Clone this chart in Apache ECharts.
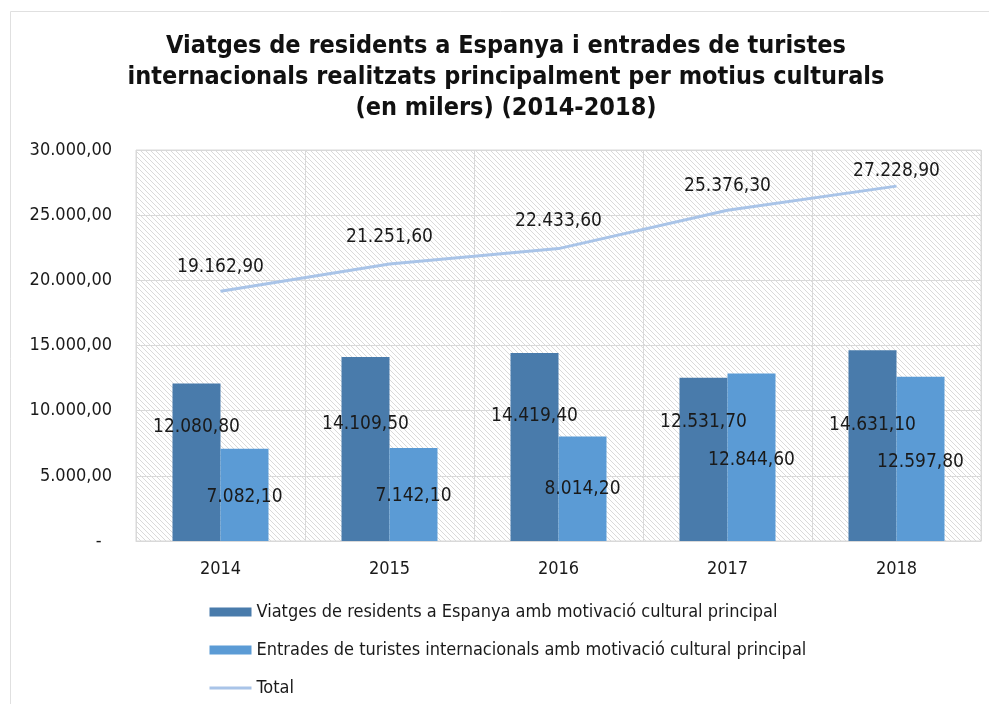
<!DOCTYPE html>
<html>
<head>
<meta charset="utf-8">
<script src="https://cdn.jsdelivr.net/npm/echarts@6/dist/echarts.min.js"></script>
<style>
  html, body { margin: 0; padding: 0; background: #fff; }
  #chart { width: 989px; height: 704px; }
</style>
</head>
<body>
<div id="chart"></div>
<script>
const years = ['2014', '2015', '2016', '2017', '2018']
const residents = [12080.8, 14109.5, 14419.4, 12531.7, 14631.1]
const tourists = [7082.1, 7142.1, 8014.2, 12844.6, 12597.8]
const totals = [19162.9, 21251.6, 22433.6, 25376.3, 27228.9]

const seriesNames = [
  'Viatges de residents a Espanya amb motivació cultural principal',
  'Entrades de turistes internacionals amb motivació cultural principal',
  'Total',
]

// label nudges (px), Excel labels were moved by hand
const residentLabelShift = [-35, -25, -31, -37, -21]
const touristLabelShift = [2, 2, 0, 3, 3]
const totalLabelGap = [15, 17, 18, 15, 6]

const font = '"DejaVu Sans Condensed", "DejaVu Sans", sans-serif'

// "12.080,80" style
const fmt = (v) => {
  const parts = v.toFixed(2).split('.')
  return parts[0].replace(/\B(?=(\d{3})+(?!\d))/g, '.') + ',' + parts[1]
}

// diagonal hatch for the plot area
const hatch = document.createElement('canvas')
hatch.width = 5
hatch.height = 5
const hctx = hatch.getContext('2d')
hctx.fillStyle = '#ffffff'
hctx.fillRect(0, 0, 5, 5)
hctx.fillStyle = '#dadada'
for (let i = 0; i < 5; i++) hctx.fillRect(i, i, 1, 1)

const chart = echarts.init(document.getElementById('chart'))

const option = {
  animation: false,
  backgroundColor: '#ffffff',
  title: {
    text: 'Viatges de residents a Espanya i entrades de turistes\ninternacionals realitzats principalment per motius culturals\n(en milers) (2014-2018)',
    left: 501,
    top: 26,
    textAlign: 'center',
    textStyle: {
      fontFamily: font,
      fontSize: 25,
      fontWeight: 'bold',
      color: '#111',
      lineHeight: 31,
    },
  },
  graphic: [
    {
      type: 'rect',
      shape: { x: 10.5, y: 11.5, width: 1000, height: 800 },
      style: { fill: 'none', stroke: '#e0e0e0', lineWidth: 1 },
      silent: true,
      z: -1,
    },
  ],
  legend: {
    orient: 'vertical',
    left: 203,
    top: 597,
    itemWidth: 42,
    itemHeight: 9,
    itemGap: 18,
    textStyle: { fontFamily: font, fontSize: 18, color: '#1a1a1a', lineHeight: 20 },
    data: [
      { name: seriesNames[0], icon: 'rect' },
      { name: seriesNames[1], icon: 'rect' },
      { name: seriesNames[2], lineStyle: { width: 3 } },
    ],
  },
  grid: {
    left: 136,
    right: 8,
    top: 150,
    bottom: 163,
    show: true,
    borderColor: '#d9d9d9',
    borderWidth: 1,
    backgroundColor: { image: hatch, repeat: 'repeat' },
  },
  xAxis: {
    type: 'category',
    data: years,
    axisLine: { lineStyle: { color: '#d9d9d9', width: 1 } },
    axisTick: { show: false },
    axisLabel: { margin: 19, fontFamily: font, fontSize: 18, color: '#1a1a1a' },
    splitLine: { show: true, lineStyle: { color: '#d9d9d9', width: 1 } },
  },
  yAxis: {
    type: 'value',
    min: 0,
    max: 30000,
    interval: 5000,
    axisLine: { show: false },
    axisTick: { show: false },
    axisLabel: {
      margin: 24,
      fontFamily: font,
      fontSize: 18,
      color: '#1a1a1a',
      formatter: (v) => (v === 0 ? '-  ' : fmt(v)),
    },
    splitLine: { lineStyle: { color: '#d9d9d9', width: 1 } },
  },
  series: [
    {
      name: seriesNames[0],
      type: 'bar',
      barWidth: 48,
      barGap: '0%',
      itemStyle: { color: '#497bab' },
      label: {
        show: true,
        position: 'inside',
        fontFamily: font,
        fontSize: 19,
        color: '#1a1a1a',
        formatter: (p) => fmt(p.value),
      },
      data: residents.map((v, i) => ({ value: v, label: { offset: [0, residentLabelShift[i]] } })),
    },
    {
      name: seriesNames[1],
      type: 'bar',
      barWidth: 48,
      barGap: '0%',
      itemStyle: { color: '#5b9bd5' },
      label: {
        show: true,
        position: 'inside',
        fontFamily: font,
        fontSize: 19,
        color: '#1a1a1a',
        formatter: (p) => fmt(p.value),
      },
      data: tourists.map((v, i) => ({ value: v, label: { offset: [0, touristLabelShift[i]] } })),
    },
    {
      name: seriesNames[2],
      type: 'line',
      symbol: 'circle',
      symbolSize: 0,
      itemStyle: { color: 'rgba(0,0,0,0)' },
      lineStyle: { color: '#a9c4e8', width: 3 },
      label: {
        show: true,
        position: 'top',
        fontFamily: font,
        fontSize: 19,
        color: '#1a1a1a',
        formatter: (p) => fmt(p.value),
      },
      data: totals.map((v, i) => ({ value: v, label: { distance: totalLabelGap[i] } })),
    },
  ],
}

chart.setOption(option)
</script>
</body>
</html>
